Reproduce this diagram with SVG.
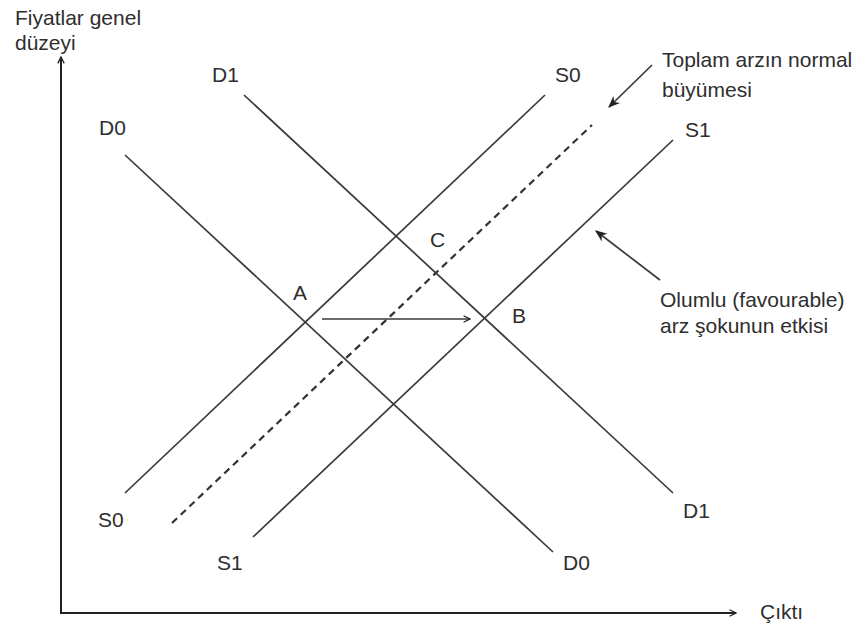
<svg xmlns="http://www.w3.org/2000/svg" width="861" height="632" viewBox="0 0 861 632">
<style>
text{font-family:"Liberation Sans",Arial,sans-serif;font-size:21px;fill:#2e2e2e}
.ln{stroke:#3a3a3a;stroke-width:1.7;fill:none}
.ax{stroke:#222;stroke-width:2;fill:none}
.dash{stroke:#333;stroke-width:2.2;fill:none;stroke-dasharray:7 5}
</style>
<defs>
<marker id="ah" viewBox="0 0 10 10" refX="9" refY="5" markerWidth="8" markerHeight="8" markerUnits="userSpaceOnUse" orient="auto"><path d="M1,1 L9,5 L1,9" fill="none" stroke="#222" stroke-width="1.6"/></marker>
<marker id="ah2" viewBox="0 0 10 10" refX="9" refY="5" markerWidth="12" markerHeight="12" markerUnits="userSpaceOnUse" orient="auto"><path d="M0,1 L10,5 L0,9 L3,5 Z" fill="#222"/></marker>
</defs>
<rect width="861" height="632" fill="#fff"/>
<g id="axes">
<line class="ax" x1="61" y1="614" x2="61" y2="57" marker-end="url(#ah)"/>
<line class="ax" x1="61" y1="613" x2="736" y2="613" marker-end="url(#ah)"/>
<text x="15" y="25">Fiyatlar genel</text>
<text x="15" y="50">düzeyi</text>
<text x="760" y="619">Çıktı</text>
</g>
<g id="connectors">
<line id="D0" class="ln" x1="125" y1="155" x2="553" y2="552"/>
<line id="D1" class="ln" x1="244" y1="95" x2="673" y2="493"/>
<line id="S0" class="ln" x1="125" y1="493" x2="545" y2="95"/>
<line id="S1" class="ln" x1="253" y1="537" x2="673" y2="140"/>
<line id="Snormal" class="dash" x1="172" y1="523" x2="592" y2="125"/>
<line class="ln" x1="322" y1="319" x2="470" y2="319" marker-end="url(#ah)"/>
<line class="ln" x1="652" y1="65" x2="609" y2="107" marker-end="url(#ah2)"/>
<line class="ln" x1="660" y1="280" x2="596" y2="231" marker-end="url(#ah2)"/>
</g>
<g id="labels">
<text x="99" y="135">D0</text>
<text x="212" y="82">D1</text>
<text x="555" y="82">S0</text>
<text x="685" y="137">S1</text>
<text x="98" y="527">S0</text>
<text x="217" y="570">S1</text>
<text x="563" y="570">D0</text>
<text x="683" y="518">D1</text>
<text x="293" y="300">A</text>
<text x="430" y="247">C</text>
<text x="512" y="323">B</text>
</g>
<g id="note1">
<text x="662" y="67">Toplam arzın normal</text>
<text x="662" y="97">büyümesi</text>
</g>
<g id="note2">
<text x="660" y="307">Olumlu (favourable)</text>
<text x="660" y="333">arz şokunun etkisi</text>
</g>
</svg>
